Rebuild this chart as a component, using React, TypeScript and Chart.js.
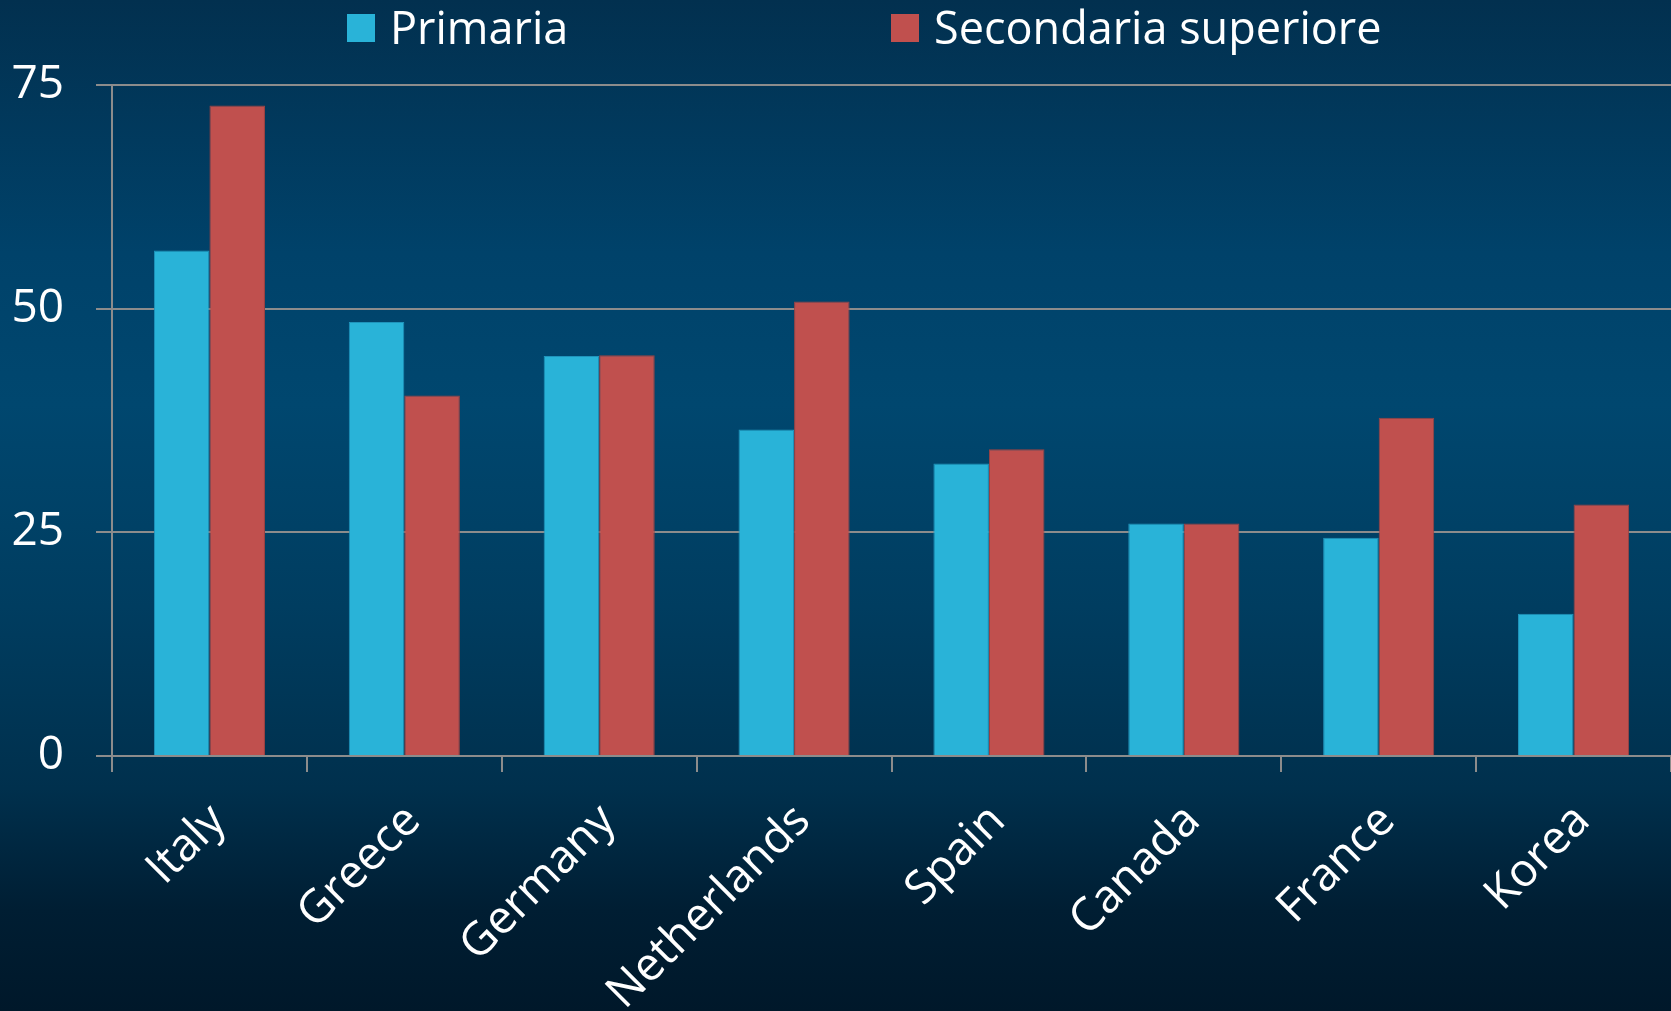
import React, { useEffect, useRef } from "react";
import { Chart, registerables } from "chart.js";

Chart.register(...registerables);

const categories = ["Italy", "Greece", "Germany", "Netherlands", "Spain", "Canada", "France", "Korea"];
const primaria = [56.5, 48.5, 44.7, 36.5, 32.7, 26.0, 24.4, 15.9];
const secondaria = [72.7, 40.3, 44.8, 50.8, 34.3, 26.0, 37.8, 28.1];
const seriesNames = ["Primaria", "Secondaria superiore"];
const yTicks = [0, 25, 50, 75];

const FONT = '"Open Sans", "Noto Sans", sans-serif';
const GRID = "#8c8c8c";

const legendPlugin = {
  id: "customLegend",
  afterDraw(chart: any) {
    const ctx = chart.ctx;
    const ds = chart.data.datasets;
    const boxX = [347, 891];
    ctx.save();
    ctx.font = `45px ${FONT}`;
    ctx.textBaseline = "alphabetic";
    ds.forEach((d: any, i: number) => {
      ctx.fillStyle = d.backgroundColor;
      ctx.fillRect(boxX[i], 14, 28, 28);
      ctx.fillStyle = "#ffffff";
      ctx.fillText(d.label, boxX[i] + 43, 44);
    });
    ctx.restore();
  },
};

export default function App() {
  const ref = useRef<HTMLCanvasElement | null>(null);

  useEffect(() => {
    document.body.style.margin = "0";
    const canvas = ref.current;
    if (!canvas) return;
    const chart = new Chart(canvas, {
      type: "bar",
      data: {
        labels: categories,
        datasets: [
          {
            label: seriesNames[0],
            data: primaria,
            backgroundColor: "#29b3d8",
            borderColor: "#1f94bc",
            borderWidth: 1,
          },
          {
            label: seriesNames[1],
            data: secondaria,
            backgroundColor: "#c0504e",
            borderColor: "#9c4242",
            borderWidth: 1,
          },
        ],
      },
      options: {
        animation: false,
        responsive: true,
        maintainAspectRatio: false,
        layout: { padding: { top: 85, left: 0, right: 0, bottom: 0 } },
        datasets: { bar: { categoryPercentage: 0.57, barPercentage: 1.0 } },
        plugins: {
          legend: { display: false },
          tooltip: { enabled: false },
        },
        scales: {
          x: {
            offset: true,
            grid: {
              offset: true,
              drawOnChartArea: false,
              drawTicks: true,
              tickLength: 16,
              color: GRID,
              lineWidth: 2,
            },
            border: { display: true, color: GRID, width: 2 },
            ticks: {
              autoSkip: false,
              maxRotation: 45,
              minRotation: 45,
              color: "#ffffff",
              padding: 22,
              labelOffset: 9,
              font: { family: FONT, size: 46 },
            },
            afterFit(scale: any) {
              scale.height = 255;
            },
          },
          y: {
            min: 0,
            max: 75,
            afterBuildTicks(scale: any) {
              scale.ticks = yTicks.map((v) => ({ value: v }));
            },
            grid: {
              color: GRID,
              lineWidth: 2,
              drawTicks: true,
              tickLength: 16,
            },
            border: { display: true, color: GRID, width: 2 },
            ticks: {
              color: "#ffffff",
              padding: 32,
              font: { family: FONT, size: 46 },
            },
            afterFit(scale: any) {
              scale.width = 112;
            },
          },
        },
      },
      plugins: [legendPlugin],
    });
    return () => chart.destroy();
  }, []);

  return (
    <div
      style={{
        position: "fixed",
        left: 0,
        top: 0,
        width: 1671,
        height: 1011,
        background:
          "linear-gradient(to bottom, #02304f 0%, #00426a 25%, #00476f 40%, #003d60 60%, #00304d 78%, #001e33 90%, #00182a 100%)",
      }}
    >
      <canvas ref={ref} />
    </div>
  );
}
